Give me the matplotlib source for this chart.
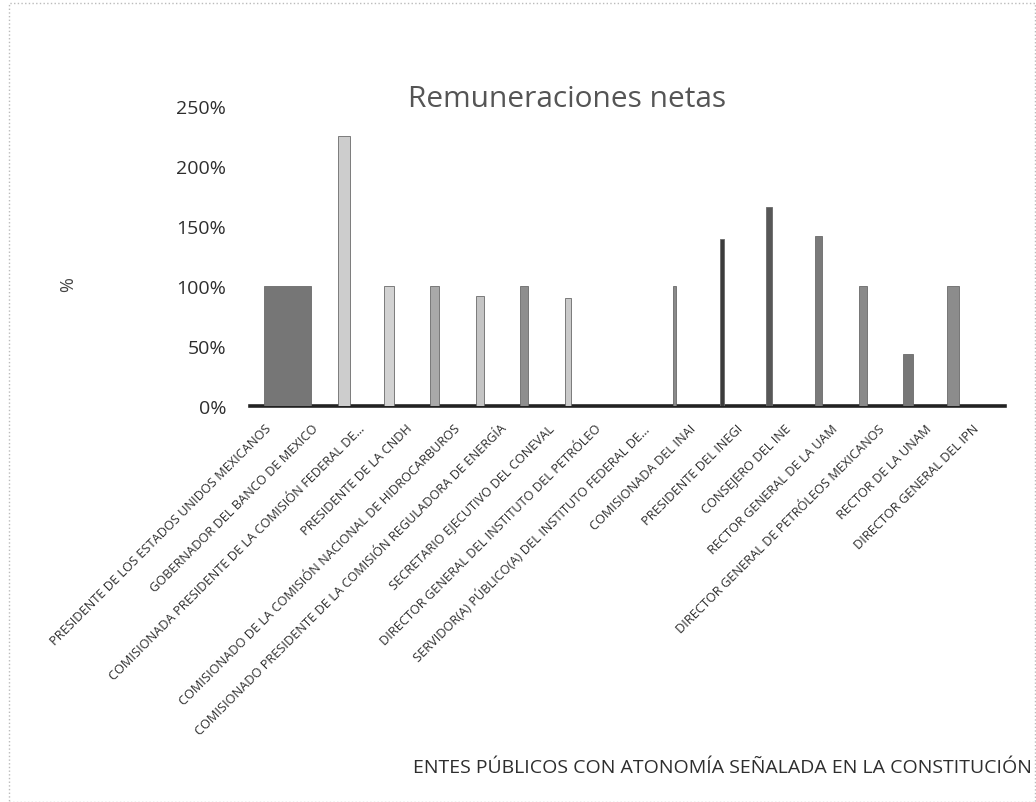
import numpy as np
import matplotlib.pyplot as plt
from matplotlib.patches import Rectangle
from matplotlib.ticker import FuncFormatter
from matplotlib.transforms import ScaledTranslation

# ---------------- data ----------------
entes = [
    'PRESIDENTE DE LOS ESTADOS UNIDOS MEXICANOS',
    'GOBERNADOR DEL BANCO DE MEXICO',
    'COMISIONADA PRESIDENTE DE LA COMISIÓN FEDERAL DE...',
    'PRESIDENTE DE LA CNDH',
    'COMISIONADO DE LA COMISIÓN NACIONAL DE HIDROCARBUROS',
    'COMISIONADO PRESIDENTE DE LA COMISIÓN REGULADORA DE ENERGÍA',
    'SECRETARIO EJECUTIVO DEL CONEVAL',
    'DIRECTOR GENERAL DEL INSTITUTO DEL PETRÓLEO',
    'SERVIDOR(A) PÚBLICO(A) DEL INSTITUTO FEDERAL DE...',
    'COMISIONADA DEL INAI',
    'PRESIDENTE DEL INEGI',
    'CONSEJERO DEL INE',
    'RECTOR GENERAL DE LA UAM',
    'DIRECTOR GENERAL DE PETRÓLEOS MEXICANOS',
    'RECTOR DE LA UNAM',
    'DIRECTOR GENERAL DEL IPN',
]
remuneracion = [100, 225, 100, 100, 92, 100, 90, 0, 0, 100, 139, 166, 142, 100, 43, 100]
y_ticks = [0, 50, 100, 150, 200, 250]

# ---------------- style ----------------
colores = ['#767676', '#cdcdcd', '#d2d2d2', '#a9a9a9', '#c4c4c4', '#8e8e8e', '#cacaca',
           '#cccccc', '#cccccc', '#8a8a8a', '#3c3c3c', '#585858', '#7a7a7a', '#8a8a8a',
           '#777777', '#8c8c8c']
anchos = [1.0, 0.27, 0.2, 0.2, 0.17, 0.17, 0.12, 0.1, 0.1, 0.08, 0.08, 0.12, 0.14, 0.17,
          0.2, 0.24]
desplaza = [0.3, 0.5, 0.45, 0.42, 0.38, 0.32, 0.25, 0, 0, -0.5, -0.5, -0.5, -0.45, -0.5,
            -0.55, -0.6]

plt.rcParams['font.family'] = ['Open Sans', 'DejaVu Sans']

fig = plt.figure(figsize=(10.36, 8.03), dpi=100)
ax = fig.add_axes([0.241, 0.493, 0.729, 0.374])

x = np.arange(len(entes))
ax.bar(x + np.array(desplaza), remuneracion, width=anchos, color=colores,
       edgecolor='#6a6a6a', linewidth=0.6, zorder=3)

ax.set_xlim(-0.5, len(entes) - 0.5)
ax.set_ylim(0, 250)
ax.set_yticks(y_ticks)
ax.yaxis.set_major_formatter(FuncFormatter(lambda v, p: '{:.0f}%'.format(v)))
ax.tick_params(axis='y', length=0, labelsize=14, labelcolor='#2e2e2e', pad=17)
ax.set_xticks(x)
ax.set_xticklabels(entes, rotation=45, ha='right', rotation_mode='anchor',
                   fontsize=9.2, color='#2e2e2e')
ax.tick_params(axis='x', length=0, pad=11)
shift = ScaledTranslation(-9 / 100, 0, fig.dpi_scale_trans)
for lab in ax.get_xticklabels():
    lab.set_transform(lab.get_transform() + shift)

for s in ['top', 'right', 'left']:
    ax.spines[s].set_visible(False)
ax.spines['bottom'].set_linewidth(2.6)
ax.spines['bottom'].set_color('#222222')

fig.text(68 / 1036, 1 - 285 / 803, '%', fontsize=13, color='#444444', rotation=90,
         ha='center', va='center')
fig.text(0.547, 0.876, 'Remuneraciones netas', fontsize=21.5, color='#555555',
         ha='center', va='center')
fig.text(0.996, 0.044, 'ENTES PÚBLICOS CON ATONOMÍA SEÑALADA EN LA CONSTITUCIÓN',
         fontsize=14, color='#2e2e2e', ha='right', va='center')

fig.patches.append(Rectangle((0.009, 0.0), 0.99, 0.995, transform=fig.transFigure,
                             fill=False, edgecolor='#bbbbbb', linewidth=1,
                             linestyle=':'))

fig.savefig('out.png', dpi=100)
